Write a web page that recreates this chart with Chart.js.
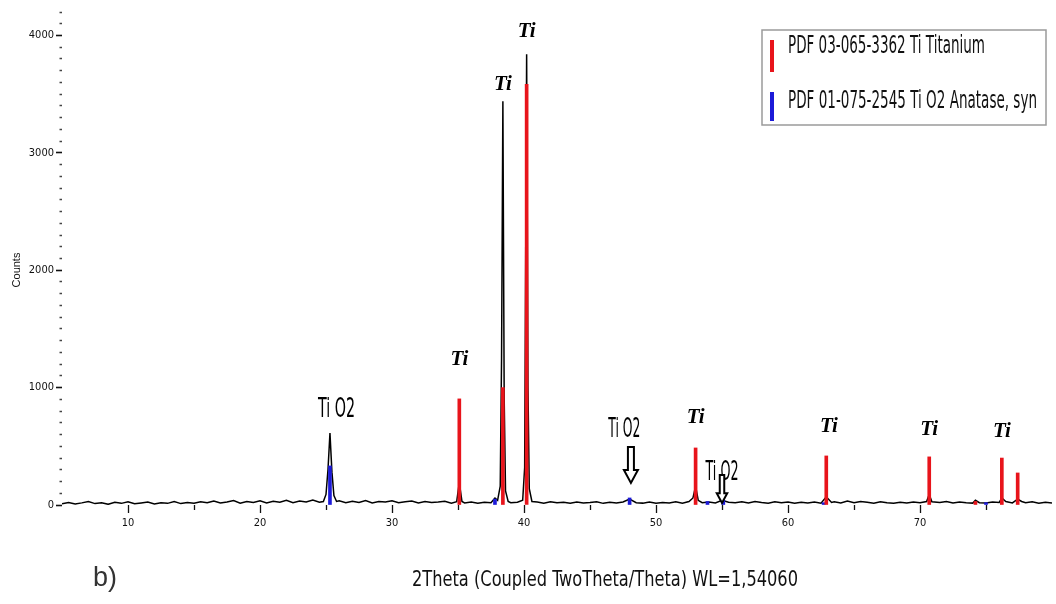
<!DOCTYPE html>
<html>
<head>
<meta charset="utf-8">
<script src="https://cdn.jsdelivr.net/npm/chart.js@4.4.1/dist/chart.umd.min.js"></script>
<style>
  html, body { margin: 0; padding: 0; background: #fff; }
  #wrap { width: 1056px; height: 604px; }
</style>
</head>
<body>
<div id="wrap"><canvas id="xrd" width="1056" height="604"></canvas></div>
<script>
const pattern = [
  [5.0,10],[5.5,22],[6.0,8],[6.5,18],[7.0,30],[7.5,12],[8.0,20],[8.5,6],[9.0,24],[9.5,14],
  [10.0,28],[10.5,10],[11.0,18],[11.5,26],[12.0,8],[12.5,20],[13.0,14],[13.5,30],[14.0,12],[14.5,22],
  [15.0,16],[15.5,28],[16.0,20],[16.5,34],[17.0,18],[17.5,26],[18.0,38],[18.5,16],[19.0,30],[19.5,22],
  [20.0,36],[20.5,18],[21.0,32],[21.5,24],[22.0,40],[22.5,20],[23.0,34],[23.5,26],[24.0,42],[24.5,24],
  [24.8,30],[25.0,90],[25.15,300],[25.3,614],[25.45,280],[25.6,80],[25.8,30],[26.0,36],[26.5,20],[27.0,32],
  [27.5,22],[28.0,38],[28.5,18],[29.0,30],[29.5,26],[30.0,36],[30.5,20],[31.0,28],[31.5,34],[32.0,18],
  [32.5,30],[33.0,22],[33.5,26],[34.0,32],[34.5,16],[34.9,28],[35.1,190],[35.3,30],[35.5,18],[36.0,26],
  [36.5,14],[37.0,24],[37.5,20],[37.8,60],[38.0,40],[38.2,160],[38.3,1250],[38.4,3440],[38.5,900],[38.6,120],
  [38.8,30],[39.0,20],[39.5,24],[39.9,40],[40.05,320],[40.2,3840],[40.3,1000],[40.4,140],[40.6,30],[41.0,26],
  [41.5,16],[42.0,28],[42.5,20],[43.0,24],[43.5,14],[44.0,26],[44.5,18],[45.0,22],[45.5,28],[46.0,14],
  [46.5,24],[47.0,18],[47.5,26],[48.0,50],[48.5,20],[49.0,16],[49.5,26],[50.0,14],[50.5,22],[51.0,18],
  [51.5,28],[52.0,16],[52.5,30],[52.8,60],[53.0,160],[53.2,40],[53.5,20],[54.0,26],[54.5,18],[55.0,40],
  [55.5,24],[56.0,20],[56.5,28],[57.0,18],[57.5,30],[58.0,22],[58.5,16],[59.0,28],[59.5,20],[60.0,26],
  [60.5,14],[61.0,24],[61.5,18],[62.0,26],[62.5,16],[62.9,70],[63.3,22],[63.5,28],[64.0,18],[64.5,34],
  [65.0,20],[65.5,30],[66.0,24],[66.5,16],[67.0,28],[67.5,20],[68.0,14],[68.5,24],[69.0,18],[69.5,26],
  [70.0,20],[70.5,30],[70.7,90],[70.9,28],[71.5,22],[72.0,30],[72.5,18],[73.0,26],[73.5,20],[74.0,16],
  [74.2,40],[74.5,20],[75.0,18],[75.5,26],[76.0,22],[76.2,60],[76.5,30],[77.0,18],[77.4,50],[77.7,30],
  [78.0,20],[78.5,28],[79.0,16],[79.5,24],[80.0,18]
]

//Fichas PDF (linhas de referencia)
const tiTheta = [35.1, 38.4, 40.2, 53.0, 62.9, 70.7, 74.2, 76.2, 77.4]
const tiCounts = [904, 1000, 3584, 486, 418, 410, 30, 400, 273]
const tio2Theta = [25.3, 37.8, 48.0, 53.9, 55.1, 62.7, 75.0]
const tio2Counts = [333, 50, 60, 30, 40, 20, 20]

const tiLegend = 'PDF 03-065-3362 Ti Titanium'
const tio2Legend = 'PDF 01-075-2545 Ti O2 Anatase, syn'

//Rotulos dos picos [2theta, counts]
const tiLabels = [[35.1, 1237], [38.4, 3582], [40.2, 4034], [53.0, 742], [63.1, 665], [70.7, 640], [76.2, 623]]
const tio2Labels = [[25.8, 810, 37], [47.6, 640, 32], [55.0, 273, 33]]
const arrows = [[48.1, 495, 188, 1], [55.0, 256, 17, 0.75]]

const xTicksLabel = v => (v % 10 === 0 && v > 5 && v < 80) ? v : ''
const yTicksLabel = v => (v % 1000 === 0) ? v : ''

function drawFitted(ctx, text, x, y, font, width, align) {
    ctx.save()
    ctx.font = font
    const w = ctx.measureText(text).width
    ctx.translate(x, y)
    ctx.scale(width / w, 1)
    ctx.textAlign = align
    ctx.textBaseline = 'middle'
    ctx.fillText(text, 0, 0)
    ctx.restore()
}

function drawArrow(ctx, x, yTop, yBot, k) {
    const shaft = 3 * k, head = 7 * k, headH = 13 * k
    ctx.save()
    ctx.strokeStyle = '#000'
    ctx.fillStyle = '#fff'
    ctx.lineWidth = 2
    ctx.beginPath()
    ctx.moveTo(x - shaft, yTop)
    ctx.lineTo(x + shaft, yTop)
    ctx.lineTo(x + shaft, yBot - headH)
    ctx.lineTo(x + head, yBot - headH)
    ctx.lineTo(x, yBot)
    ctx.lineTo(x - head, yBot - headH)
    ctx.lineTo(x - shaft, yBot - headH)
    ctx.closePath()
    ctx.fill()
    ctx.stroke()
    ctx.restore()
}

const annotationsPlugin = {
    id: 'annotations',
    afterDatasetsDraw(chart) {
        const ctx = chart.ctx
        const sx = chart.scales.x
        const sy = chart.scales.y

        //Ti
        ctx.save()
        ctx.fillStyle = '#000'
        ctx.font = 'italic bold 21px "Liberation Serif"'
        ctx.textAlign = 'center'
        ctx.textBaseline = 'middle'
        tiLabels.forEach(l => {
            ctx.fillText('Ti', sx.getPixelForValue(l[0]), sy.getPixelForValue(l[1]))
        })
        ctx.restore()

        //TiO2
        ctx.fillStyle = '#000'
        tio2Labels.forEach(l => {
            drawFitted(ctx, 'Ti O2', sx.getPixelForValue(l[0]), sy.getPixelForValue(l[1]),
                '27px "Liberation Sans Narrow", "DejaVu Sans Condensed"', l[2], 'center')
        })
        arrows.forEach(a => {
            drawArrow(ctx, sx.getPixelForValue(a[0]), sy.getPixelForValue(a[1]), sy.getPixelForValue(a[2]), a[3])
        })

        //Legenda
        ctx.save()
        ctx.fillStyle = '#fff'
        ctx.fillRect(762, 30, 284, 95)
        ctx.strokeStyle = '#9a9a9a'
        ctx.lineWidth = 1.5
        ctx.strokeRect(762, 30, 284, 95)
        ctx.fillStyle = chart.data.datasets[1].backgroundColor
        ctx.fillRect(770, 40, 4, 32)
        ctx.fillStyle = chart.data.datasets[2].backgroundColor
        ctx.fillRect(770, 92, 4, 29)
        ctx.fillStyle = '#111'
        drawFitted(ctx, chart.data.datasets[1].label, 788, 47, '24px "Liberation Sans Narrow", "DejaVu Sans Condensed"', 197, 'left')
        drawFitted(ctx, chart.data.datasets[2].label, 788, 102, '24px "Liberation Sans Narrow", "DejaVu Sans Condensed"', 249, 'left')
        ctx.restore()

        //Titulos dos eixos
        ctx.save()
        ctx.fillStyle = '#111'
        drawFitted(ctx, '2Theta (Coupled TwoTheta/Theta) WL=1,54060', 605, 580,
            '22px "Liberation Sans Narrow", "DejaVu Sans Condensed"', 386, 'center')
        ctx.fillStyle = '#333'
        ctx.font = '27px "Liberation Sans"'
        ctx.textAlign = 'left'
        ctx.textBaseline = 'middle'
        ctx.fillText('b)', 93, 579)
        ctx.translate(17, 270)
        ctx.rotate(-Math.PI / 2)
        ctx.fillStyle = '#111'
        ctx.font = '11px "Liberation Sans"'
        ctx.textAlign = 'center'
        ctx.fillText('Counts', 0, 0)
        ctx.restore()
    }
}

new Chart(document.getElementById('xrd'), {
    type: 'line',
    data: {
        datasets: [{
            type: 'line',
            label: 'Amostra',
            data: pattern.map(p => ({ x: p[0], y: p[1] })),
            borderColor: '#000',
            borderWidth: 1.5,
            pointRadius: 0,
            tension: 0,
            order: 3
        }, {
            type: 'bar',
            label: tiLegend,
            data: tiTheta.map((t, i) => ({ x: t, y: tiCounts[i] })),
            backgroundColor: '#e8141b',
            barThickness: 3,
            grouped: false,
            order: 1
        }, {
            type: 'bar',
            label: tio2Legend,
            data: tio2Theta.map((t, i) => ({ x: t, y: tio2Counts[i] })),
            backgroundColor: '#1c1ad8',
            barThickness: 3,
            grouped: false,
            order: 2
        }]
    },
    options: {
        responsive: false,
        animation: false,
        devicePixelRatio: 1,
        layout: { padding: { top: 12, right: 0, left: 0, bottom: 0 } },
        plugins: {
            legend: { display: false },
            tooltip: { enabled: false }
        },
        scales: {
            x: {
                type: 'linear',
                min: 5,
                max: 80,
                offset: false,
                border: { display: false },
                grid: {
                    offset: false,
                    drawOnChartArea: false,
                    tickLength: 8,
                    tickColor: c => (c.tick && (c.tick.value === 80 || c.tick.value === 5)) ? 'rgba(0,0,0,0)' : '#111',
                    tickWidth: 1.3,
                    tickBorderDash: c => (c.tick && c.tick.value % 10 === 0) ? [] : [5, 20]
                },
                ticks: {
                    stepSize: 5,
                    autoSkip: false,
                    maxRotation: 0,
                    padding: 4,
                    color: '#111',
                    font: { family: '"Liberation Sans Narrow", "DejaVu Sans Condensed"', size: 11 },
                    callback: xTicksLabel
                },
                afterFit: scale => { scale.height = 99 }
            },
            y: {
                min: 0,
                max: 4200,
                border: { display: false },
                grid: {
                    offset: false,
                    drawOnChartArea: false,
                    tickLength: 6,
                    tickColor: c => (c.tick && c.tick.value % 1000 === 0) ? '#111' : '#444',
                    tickWidth: 1.6,
                    tickBorderDash: c => (c.tick && c.tick.value % 1000 === 0) ? [] : [0, 3.5, 2.5, 20]
                },
                ticks: {
                    stepSize: 100,
                    autoSkip: false,
                    padding: 2,
                    color: '#111',
                    font: { family: '"Liberation Sans Narrow", "DejaVu Sans Condensed"', size: 11 },
                    callback: yTicksLabel
                },
                afterFit: scale => { scale.width = 62 }
            }
        }
    },
    plugins: [annotationsPlugin]
})
</script>
</body>
</html>
